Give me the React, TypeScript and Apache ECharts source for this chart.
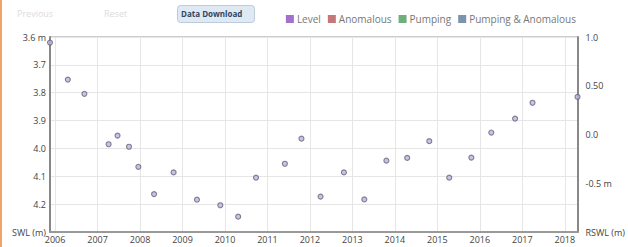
import React, { useEffect, useRef } from "react";
import * as echarts from "echarts";

const years = [2006, 2007, 2008, 2009, 2010, 2011, 2012, 2013, 2014, 2015, 2016, 2017, 2018];
const levelDates = [
  2005.88, 2006.3, 2006.69, 2007.26, 2007.47, 2007.74, 2007.96, 2008.33, 2008.79, 2009.34,
  2009.89, 2010.31, 2010.73, 2011.41, 2011.8, 2012.25, 2012.8, 2013.28, 2013.8,
  2014.29, 2014.81, 2015.28, 2015.8, 2016.27, 2016.83, 2017.24, 2018.3,
];
const levelValues = [
  3.62, 3.753, 3.804, 3.985, 3.954, 3.994, 4.066, 4.164, 4.086, 4.184,
  4.204, 4.245, 4.105, 4.055, 3.965, 4.173, 4.086, 4.183, 4.044,
  4.034, 3.974, 4.105, 4.033, 3.943, 3.893, 3.836, 3.815,
];
const legendNames = ["Level", "Anomalous", "Pumping", "Pumping & Anomalous"];
const legendColors = ["#8a4dc0", "#b8555a", "#4e9a5c", "#5b7898"];

export default function App() {
  const ref = useRef<HTMLDivElement>(null);
  useEffect(() => {
    document.body.style.margin = "0";
    const chart = echarts.init(ref.current!, null, { renderer: "svg" });
    const font = "'Open Sans', 'DejaVu Sans', sans-serif";
    const levelData = levelDates.map((d, i) => [d, levelValues[i]]);
    chart.setOption({
      animation: false,
      textStyle: { fontFamily: font },
      grid: {
        left: 50,
        right: 44,
        top: 37,
        bottom: 15,
        show: true,
        borderColor: "#999",
        borderWidth: 1,
        backgroundColor: "#fff",
      },
      legend: {
        right: 47,
        top: 9,
        icon: "rect",
        itemWidth: 8,
        itemHeight: 8,
        itemGap: 7,
        textStyle: { fontSize: 10, color: "#777", fontFamily: font, padding: [0, 0, 0, -2] },
        data: legendNames.map((n, i) => ({
          name: n,
          itemStyle: { color: legendColors[i], borderWidth: 0 },
        })),
      },
      xAxis: {
        type: "value",
        min: 2005.88,
        max: 2018.3,
        axisLine: { show: true, onZero: false, lineStyle: { color: "#999", width: 2 } },
        axisTick: { show: false, customValues: years },
        axisLabel: {
          customValues: years,
          fontSize: 9,
          color: "#444",
          margin: 3,
          formatter: (v: number) => String(Math.round(v)),
        },
        splitLine: { show: true, lineStyle: { color: "#e6e6e6", width: 1 } },
      },
      yAxis: [
        {
          type: "value",
          min: 3.6,
          max: 4.3,
          interval: 0.1,
          inverse: true,
          axisLine: { show: true, onZero: false, lineStyle: { color: "#888", width: 2 } },
          axisTick: { show: false },
          axisLabel: {
            fontSize: 9,
            color: "#444",
            margin: 4,
            formatter: (v: number) => {
              const r = Math.round(v * 10) / 10;
              if (Math.abs(r - 3.6) < 1e-6) return "3.6 m";
              if (Math.abs(r - 4.3) < 1e-6) return "SWL (m)";
              return r.toFixed(1);
            },
          },
          splitLine: { show: true, lineStyle: { color: "#e6e6e6", width: 1 } },
        },
        {
          type: "value",
          min: -1,
          max: 1,
          interval: 0.5,
          position: "right",
          axisLine: { show: true, onZero: false, lineStyle: { color: "#888", width: 2 } },
          axisTick: { show: false },
          axisLabel: {
            fontSize: 9,
            color: "#444",
            margin: 8,
            formatter: (v: number) => {
              if (v === 1) return "1.0";
              if (v === 0.5) return "0.50";
              if (v === 0) return "0.0";
              if (v === -0.5) return "-0.5 m";
              return "RSWL (m)";
            },
          },
          splitLine: { show: false },
        },
      ],
      graphic: [
        { type: "rect", left: 0, top: 0, shape: { width: 2, height: 247 }, style: { fill: "#f2a466" } },
        { type: "text", left: 17, top: 9, style: { text: "Previous", fill: "#dcdcdc", fontSize: 9, fontFamily: font } },
        { type: "text", left: 104, top: 9, style: { text: "Reset", fill: "#dcdcdc", fontSize: 9, fontFamily: font } },
        {
          type: "rect",
          left: 177,
          top: 5,
          shape: { width: 77, height: 17, r: 3 },
          style: { fill: "#dfe9f3", stroke: "#bccbda", lineWidth: 1 },
        },
        {
          type: "text",
          left: 181,
          top: 9,
          style: { text: "Data Download", fill: "#2f4660", fontSize: 8, fontWeight: "bold", fontFamily: font },
        },
      ],
      series: [
        {
          name: "Level",
          type: "scatter",
          yAxisIndex: 0,
          symbol: "circle",
          symbolSize: 5,
          clip: false,
          data: levelData,
          itemStyle: { color: "#bdb4dc", borderColor: "#66607a", borderWidth: 1.1 },
          z: 5,
        },
        { name: "Anomalous", type: "scatter", data: [], itemStyle: { color: legendColors[1] } },
        { name: "Pumping", type: "scatter", data: [], itemStyle: { color: legendColors[2] } },
        { name: "Pumping & Anomalous", type: "scatter", data: [], itemStyle: { color: legendColors[3] } },
      ],
    });
    return () => chart.dispose();
  }, []);
  return (
    <div
      ref={ref}
      style={{ position: "absolute", left: 0, top: 0, width: 628, height: 247, background: "#fff" }}
    />
  );
}
